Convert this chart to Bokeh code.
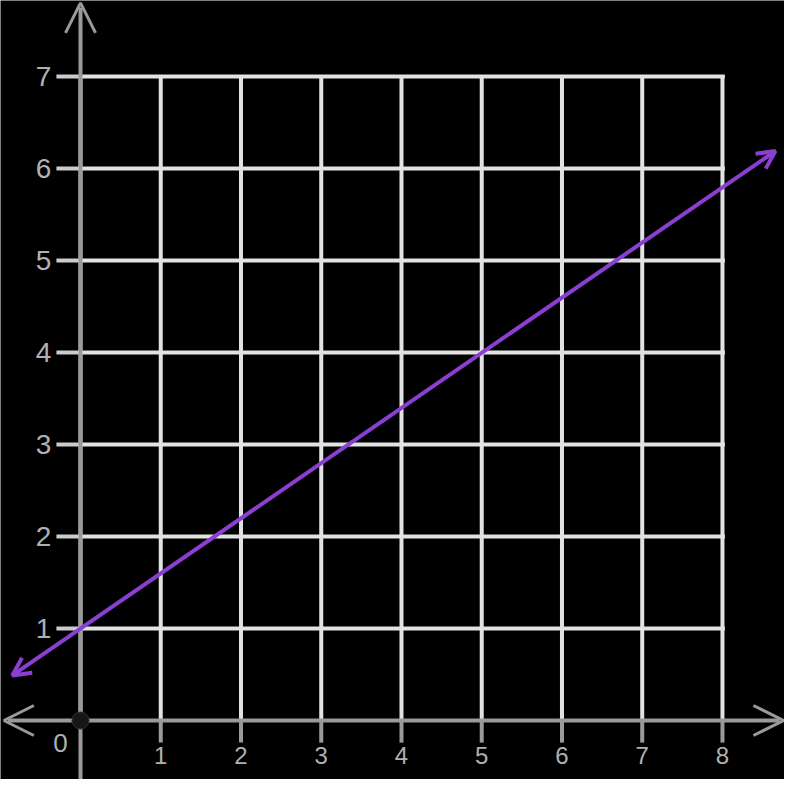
from bokeh.plotting import figure
from bokeh.models import Arrow, OpenHead, Range1d
from bokeh.core.properties import value
from bokeh.embed import file_html
from bokeh.resources import INLINE

# data
x_ticks = [1, 2, 3, 4, 5, 6, 7, 8]
x_tick_labels = ["1", "2", "3", "4", "5", "6", "7", "8"]
y_ticks = [1, 2, 3, 4, 5, 6, 7]
y_tick_labels = ["1", "2", "3", "4", "5", "6", "7"]
grid_x = [0, 1, 2, 3, 4, 5, 6, 7, 8]
grid_y = [1, 2, 3, 4, 5, 6, 7]
line_x = [-0.85, 8.66]
line_y = [0.49, 6.19]
origin_x = [0]
origin_y = [0]

X0, X1 = -0.997, 8.773
Y0, Y1 = -0.641, 7.826

p = figure(width=784, height=779, output_backend="svg", toolbar_location=None,
           x_range=Range1d(X0, X1), y_range=Range1d(Y0, Y1),
           min_border=0, background_fill_color="black", border_fill_color="black",
           outline_line_color=None)
p.axis.visible = False
p.grid.visible = False

grid_col = "#e2e2e2"
axis_col = "#9a9a9a"
lab_col = "#b0b0b0"
purple = "#8a3fd2"

# grid
p.segment(x0=grid_x, y0=[0]*len(grid_x), x1=grid_x, y1=[7]*len(grid_x),
          line_color=grid_col, line_width=4)
p.segment(x0=[0]*len(grid_y), y0=grid_y, x1=[8.03]*len(grid_y), y1=grid_y,
          line_color=grid_col, line_width=4)
# y ticks (left of axis)
p.segment(x0=[-0.3]*len(y_ticks), y0=y_ticks, x1=[0]*len(y_ticks), y1=y_ticks,
          line_color="#cccccc", line_width=4)
# x ticks (below axis)
p.segment(x0=x_ticks, y0=[0]*len(x_ticks), x1=x_ticks, y1=[-0.24]*len(x_ticks),
          line_color=axis_col, line_width=4)

# axes lines (glyphs, under the origin dot)
XL, XR, YT = -0.955, 8.76, 7.80
p.segment(x0=[XL + 0.05, 0], y0=[0, Y0], x1=[XR - 0.05, 0], y1=[0, YT - 0.05],
          line_color=axis_col, line_width=4)
# axis arrow heads
head = dict(size=30, line_color=axis_col, line_width=3)
p.add_layout(Arrow(end=OpenHead(**head), x_start=0, y_start=YT - 0.3, x_end=0, y_end=YT,
                   line_alpha=0))
p.add_layout(Arrow(end=OpenHead(**head), x_start=XL + 0.3, y_start=0, x_end=XL, y_end=0,
                   line_alpha=0))
p.add_layout(Arrow(end=OpenHead(**head), x_start=XR - 0.3, y_start=0, x_end=XR, y_end=0,
                   line_alpha=0))

# origin dot
p.scatter(origin_x, origin_y, size=17, fill_color="#161616", line_color="#303030", line_width=1)

# purple line
p.add_layout(Arrow(start=OpenHead(size=18, line_color=purple, line_width=4),
                   end=OpenHead(size=18, line_color=purple, line_width=4),
                   x_start=line_x[0], y_start=line_y[0], x_end=line_x[1], y_end=line_y[1],
                   line_color=purple, line_width=4))

# labels
font = value("Liberation Sans")
p.text(x=[-0.46]*len(y_ticks), y=y_ticks, text=y_tick_labels, text_font=font,
       text_font_size="28px", text_color=lab_col, text_align="center", text_baseline="middle")
p.text(x=x_ticks, y=[-0.283]*len(x_ticks), text=x_tick_labels, text_font=font,
       text_font_size="24px", text_color=lab_col, text_align="center", text_baseline="top")
p.text(x=[-0.25], y=[-0.24], text=["0"], text_font=font,
       text_font_size="26px", text_color=lab_col, text_align="center", text_baseline="middle")

open("out.html", "w").write(file_html(p, INLINE))
